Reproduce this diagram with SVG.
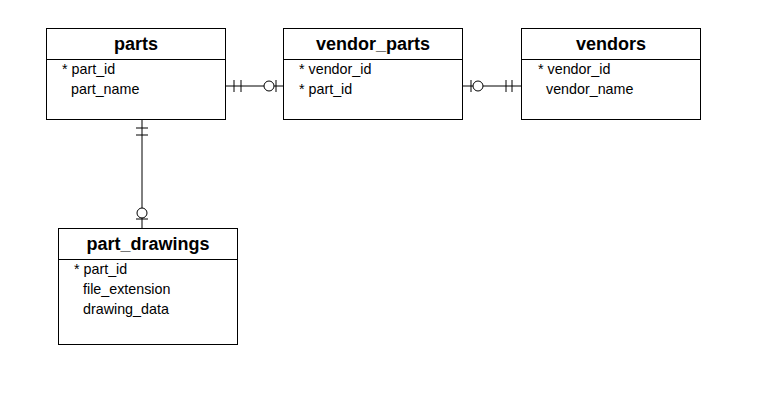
<svg xmlns="http://www.w3.org/2000/svg" width="772" height="406" viewBox="0 0 772 406">
<style>
.box{fill:#fff;stroke:#000;stroke-width:1}
.t{font-family:"Liberation Sans",Arial,sans-serif;font-size:18px;font-weight:bold;text-anchor:middle;fill:#000}
.f{font-family:"Liberation Sans",Arial,sans-serif;font-size:14.3px;fill:#000}
.c{stroke:#000;stroke-width:1;fill:none}
.o{stroke:#000;stroke-width:1;fill:#fff}
</style>
<rect width="772" height="406" fill="#fff"/>
<g id="connectors">
<line class="c" x1="225" y1="86" x2="283" y2="86"/>
<line class="c" x1="234" y1="80" x2="234" y2="92"/>
<line class="c" x1="241" y1="80" x2="241" y2="92"/>
<circle class="o" cx="269" cy="86" r="5"/>
<line class="c" x1="276" y1="80" x2="276" y2="92"/>
<line class="c" x1="462" y1="86" x2="521" y2="86"/>
<line class="c" x1="471" y1="80" x2="471" y2="92"/>
<circle class="o" cx="478" cy="86" r="5"/>
<line class="c" x1="506" y1="80" x2="506" y2="92"/>
<line class="c" x1="512" y1="80" x2="512" y2="92"/>
<line class="c" x1="142" y1="119" x2="142" y2="228"/>
<line class="c" x1="136" y1="128" x2="148" y2="128"/>
<line class="c" x1="136" y1="135" x2="148" y2="135"/>
<circle class="o" cx="142" cy="213" r="5"/>
<line class="c" x1="136" y1="219" x2="148" y2="219"/>
</g>
<g id="parts">
<rect class="box" x="46.5" y="28.5" width="179" height="91"/>
<line class="c" x1="46.5" y1="59.5" x2="225.5" y2="59.5"/>
<text class="t" x="136" y="49.5">parts</text>
<text class="f" x="62" y="74">* part_id</text>
<text class="f" x="71" y="94">part_name</text>
</g>
<g id="vendor_parts">
<rect class="box" x="283.5" y="28.5" width="179" height="91"/>
<line class="c" x1="283.5" y1="59.5" x2="462.5" y2="59.5"/>
<text class="t" x="373" y="49.5">vendor_parts</text>
<text class="f" x="299" y="74">* vendor_id</text>
<text class="f" x="299" y="94">* part_id</text>
</g>
<g id="vendors">
<rect class="box" x="521.5" y="28.5" width="179" height="91"/>
<line class="c" x1="521.5" y1="59.5" x2="700.5" y2="59.5"/>
<text class="t" x="611" y="49.5">vendors</text>
<text class="f" x="538" y="74">* vendor_id</text>
<text class="f" x="546" y="94">vendor_name</text>
</g>
<g id="part_drawings">
<rect class="box" x="58.5" y="228.5" width="179" height="116"/>
<line class="c" x1="58.5" y1="259.5" x2="237.5" y2="259.5"/>
<text class="t" x="148" y="249.5">part_drawings</text>
<text class="f" x="74" y="274">* part_id</text>
<text class="f" x="83" y="294">file_extension</text>
<text class="f" x="83" y="314">drawing_data</text>
</g>
</svg>
